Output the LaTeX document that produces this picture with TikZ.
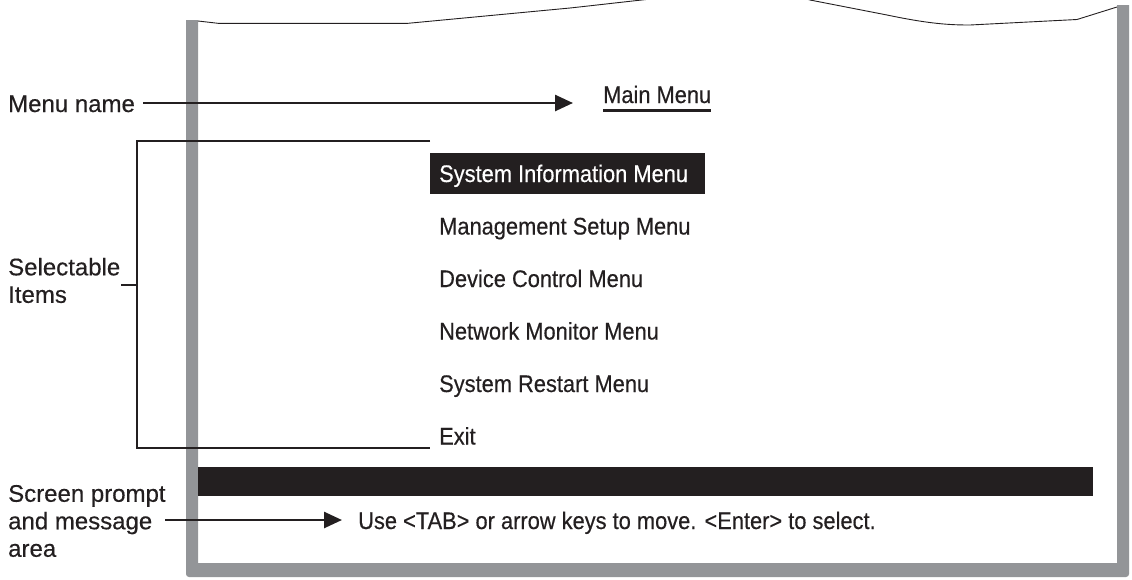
\documentclass[tikz,border=0pt]{standalone}
\usepackage{fontspec}
\setmainfont{Liberation Sans}[FakeStretch=0.91, FakeBold=0.4]
\newfontfamily\widelbl{Liberation Sans}[FakeBold=0.4]
\usetikzlibrary{arrows.meta}
\definecolor{ink}{HTML}{231F20}
\definecolor{framegray}{HTML}{939598}
\begin{document}
\begin{tikzpicture}[x=1pt,y=-1pt,
  lbl/.style={inner sep=0pt, text=ink, font=\fontsize{24}{27.5}\selectfont},
  leftlbl/.style={lbl, font=\widelbl\fontsize{24}{27.5}\selectfont, align=left, anchor=west},
  item/.style={lbl, anchor=base west},
  conn/.style={draw=ink, line width=2.6pt},
  arr/.style={conn, -{Triangle[length=18pt,width=16pt]}},
  blackbox/.style={fill=ink, inner sep=0pt, anchor=north west}
]
\useasboundingbox (0,0) rectangle (1132,579);
% screen frame
\fill[framegray] (186,20) -- (186,574) arc[start angle=180, end angle=90, radius=3] -- (1126,577) arc[start angle=90, end angle=0, radius=3] -- (1129,5) -- (1117,5) -- (1117,563) -- (198,563) -- (198,20) -- cycle;
% torn top edge
\begin{scope}
\clip (0,0) rectangle (1132,579);
\draw[ink, line width=0.9pt, line join=round] (198,21) -- (218,23.3) -- (408,23.3) -- (570,8) .. controls (680,-4) and (760,-16) .. (810,0) -- (887,15) .. controls (930,24) and (950,25) .. (970,25) -- (1077,19.5) -- (1117,7);
\end{scope}
% menu name
\node[item] (mm) at (603,103) {Main Menu};
\draw[conn] ([yshift=-7pt]mm.south west) -- ([yshift=-7pt]mm.south east);
% highlighted item
\node[blackbox, minimum width=275pt, minimum height=41pt] (hl) at (430,153) {};
\node[item, text=white] (i1) at (439,182) {System Information Menu};
\node[item] (i2) at (439,234.5) {Management Setup Menu};
\node[item] (i3) at (439,287) {Device Control Menu};
\node[item] (i4) at (439,339.5) {Network Monitor Menu};
\node[item] (i5) at (439,392) {System Restart Menu};
\node[item] (i6) at (439,444.5) {Exit};
% message bar
\node[blackbox, minimum width=895pt, minimum height=29pt] (bar) at (198,467) {};
\node[item] (msg) at (358,529) {Use <TAB> or arrow keys to move. <Enter> to select.};
% left labels
\node[leftlbl, anchor=base west] (mn) at (8,112) {Menu name};
\node[leftlbl] (si) at (8,280.5) {Selectable\\Items};
\node[leftlbl] (sp) at (8,521) {Screen prompt\\and message\\area};
% connectors
\coordinate (mmtip) at (573,103);
\draw[arr] (143,103) coordinate (mnstart) -- (mmtip);
\coordinate (btop) at (430,141);
\coordinate (bbot) at (430,448);
\coordinate (bx) at (137,285);
\coordinate (tick) at (121,285);
\draw[conn] (btop) -- (bx |- btop) -- (bx |- bbot) -- (bbot);
\draw[conn] (tick) -- (bx);
\draw[arr, shorten >=16pt] (165,520) coordinate (spstart) -- (msg.west |- spstart);
\end{tikzpicture}
\end{document}
